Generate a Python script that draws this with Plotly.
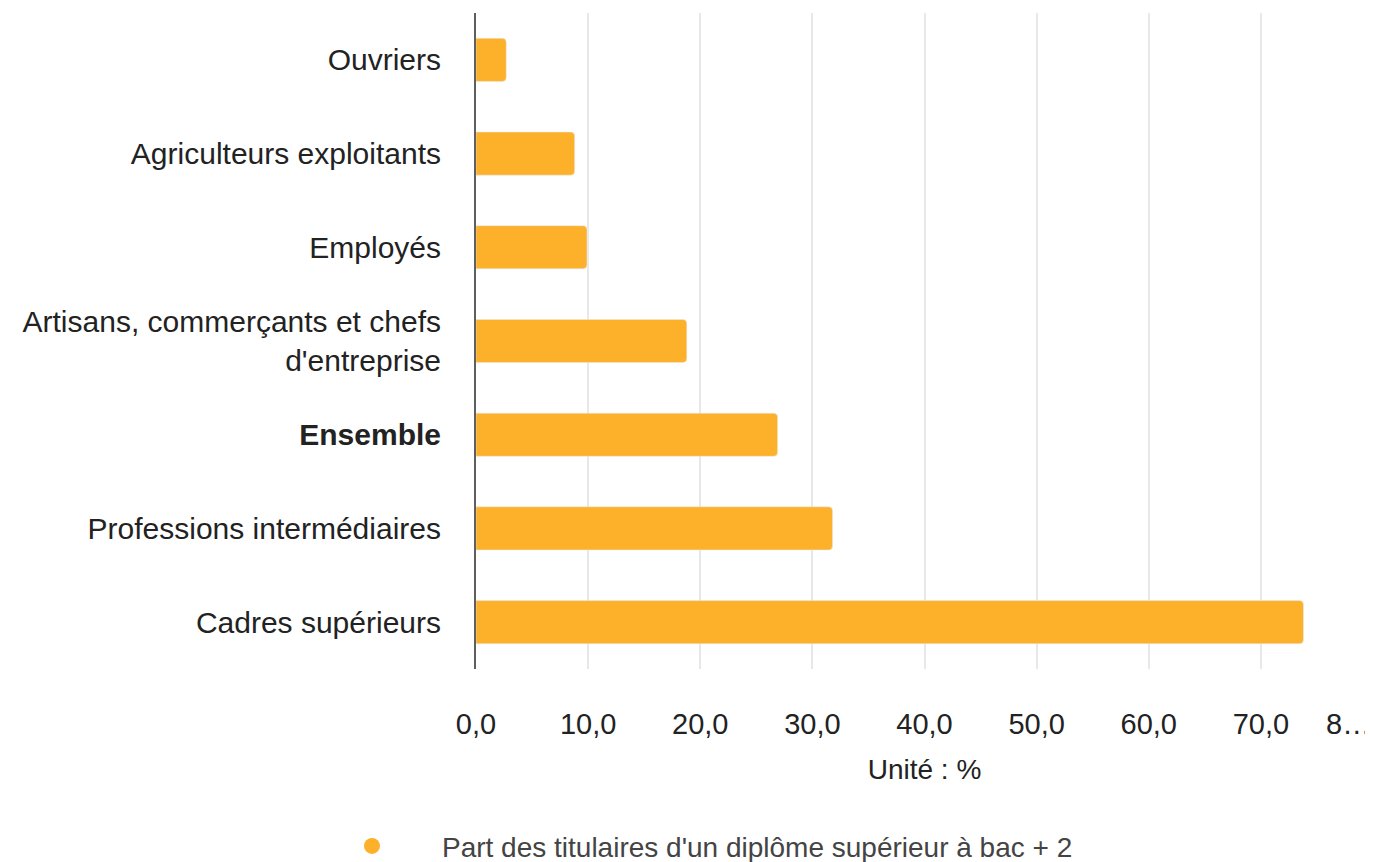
import plotly.graph_objects as go

categories = ["Ouvriers", "Agriculteurs exploitants", "Employés",
              "Artisans, commerçants et chefs<br>d'entreprise", "<b>Ensemble</b>",
              "Professions intermédiaires", "Cadres supérieurs"]
values = [2.7, 8.8, 9.9, 18.8, 26.9, 31.8, 73.8]
series_name = "Part des titulaires d'un diplôme supérieur à bac + 2"
tick_vals = [0, 10, 20, 30, 40, 50, 60, 70]
bar_color = "#FDB02A"
font_family = "Liberation Sans, Arial, sans-serif"

fig = go.Figure()
fig.add_trace(go.Bar(
    x=values, y=categories, orientation="h",
    marker=dict(color=bar_color, cornerradius=4),
    showlegend=False, name=series_name,
))
fig.add_trace(go.Scatter(
    x=[None], y=[None], mode="markers", name=series_name,
    marker=dict(color=bar_color, size=20, symbol="circle"),
    showlegend=True,
))

fig.update_layout(
    width=1365, height=854,
    margin=dict(l=468, r=0, t=5, b=193),
    paper_bgcolor="white", plot_bgcolor="white",
    separators=", ",
    bargap=0.54,
    font=dict(family=font_family, size=30, color="#222222"),
    showlegend=True,
    legend=dict(orientation="h", x=-0.194, xanchor="left", xref="paper",
                y=0.0185, yanchor="middle", yref="container",
                font=dict(size=28, color="#444444"), itemwidth=130),
    xaxis=dict(range=[0, 80], tickvals=tick_vals, tickformat=".1f",
               showgrid=True, gridcolor="#e8e8e8", gridwidth=2,
               zeroline=False, showline=False, ticks="", automargin=False,
               ticklabelstandoff=35,
               tickfont=dict(size=29, color="#222222"),
               title=dict(text="Unité : %", font=dict(size=28, color="#222222"), standoff=20)),
    yaxis=dict(categoryorder="array", categoryarray=categories, autorange="reversed",
               showline=True, linecolor="#5f5f5f", linewidth=2, ticks="",
               showgrid=False, ticklabelstandoff=27, automargin=False,
               tickfont=dict(size=30, color="#222222")),
)
fig.add_annotation(text="8…", x=80, xref="x", xanchor="right", xshift=0,
                   y=0, yref="paper", yanchor="middle", yshift=-55, showarrow=False,
                   font=dict(size=29, color="#222222"))

fig.write_html("out.html")
